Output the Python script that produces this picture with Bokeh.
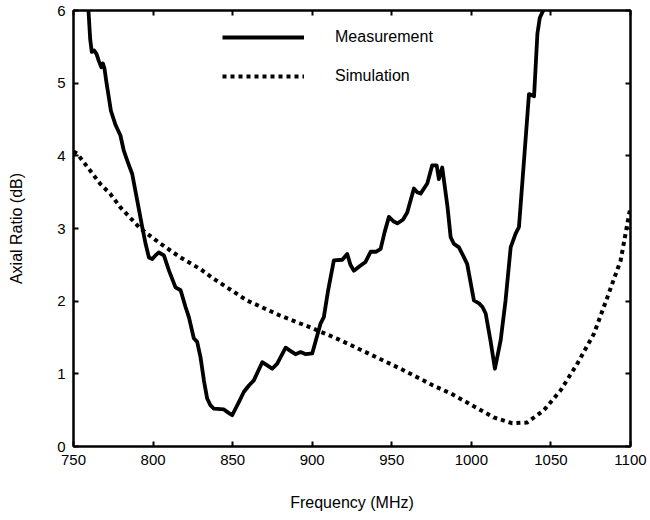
from bokeh.plotting import figure
from bokeh.models import LinearAxis, Legend, LegendItem, Range1d, FixedTicker
from bokeh.embed import file_html
from bokeh.resources import INLINE

# Measured axial ratio (dB) versus frequency (MHz)
meas_freq = [759.4, 760.5, 761.5, 763, 764.5, 766, 767.5, 768.5, 769.5, 770.5,
             773.5, 776.5, 779.5, 781.6, 784, 786.9, 790, 793.2, 795.3, 797.4,
             799.5, 801.5, 803.6, 806.8, 810, 814.1, 817.3, 820.4, 822.5, 825.6,
             827.7, 829.8, 832, 834, 836, 838.2, 844.5, 847, 849.7, 853.9,
             857, 860.2, 863.3, 868.6, 871.5, 874.9, 878, 883.3, 886, 889.5,
             892.7, 896, 900, 905.2, 907.3, 910, 913.6, 918.9, 922, 924,
             926.2, 930.4, 933.5, 936.7, 940, 943, 945.5, 948.2, 951, 953.5,
             957, 959.7, 963.9, 966, 968.1, 972.3, 975.4, 978.2, 979.6, 981.7,
             985, 987, 989, 992.2, 995, 997.4, 1001.6, 1004.8, 1007, 1009,
             1012, 1014.8, 1018.4, 1021.5, 1024.7, 1027.8, 1029.9, 1033.1, 1036.2, 1039.4,
             1041.5, 1043, 1045.2]
meas_ar = [6.0, 5.6, 5.43, 5.45, 5.40, 5.3, 5.22, 5.27, 5.2, 5.04,
           4.62, 4.42, 4.28, 4.07, 3.92, 3.75, 3.39, 3.02, 2.79, 2.60,
           2.58, 2.63, 2.67, 2.63, 2.42, 2.19, 2.15, 1.92, 1.78, 1.49,
           1.44, 1.23, 0.9, 0.66, 0.57, 0.52, 0.51, 0.47, 0.43, 0.61,
           0.75, 0.84, 0.91, 1.16, 1.12, 1.07, 1.14, 1.36, 1.32, 1.27,
           1.30, 1.27, 1.28, 1.69, 1.78, 2.15, 2.56, 2.57, 2.65, 2.5,
           2.42, 2.49, 2.54, 2.68, 2.68, 2.72, 2.95, 3.16, 3.10, 3.07,
           3.12, 3.22, 3.55, 3.50, 3.48, 3.62, 3.87, 3.87, 3.68, 3.84,
           3.30, 2.88, 2.79, 2.74, 2.62, 2.51, 2.01, 1.97, 1.92, 1.83,
           1.46, 1.07, 1.46, 2.01, 2.74, 2.93, 3.02, 3.94, 4.85, 4.82,
           5.68, 5.9, 6.0]

# Simulated axial ratio (dB) versus frequency (MHz)
sim_freq = [750, 752.3, 760, 767, 773, 779.5, 792, 804.7, 817.3, 829.8,
            838, 859, 880, 901, 918, 955.5, 976, 987, 997, 1014,
            1025.7, 1035, 1045.6, 1056, 1066.6, 1077, 1085.4, 1093.8, 1100]
sim_ar = [4.06, 4.03, 3.81, 3.61, 3.48, 3.29, 3.0, 2.79, 2.6, 2.44,
          2.31, 2.01, 1.80, 1.62, 1.46, 1.07, 0.84, 0.73, 0.61, 0.40,
          0.32, 0.33, 0.50, 0.77, 1.14, 1.55, 2.05, 2.56, 3.3]

x_ticks = [750, 800, 850, 900, 950, 1000, 1050, 1100]
y_ticks = [0, 1, 2, 3, 4, 5, 6]

FONT = "Liberation Sans"

p = figure(width=650, height=520, output_backend="svg", toolbar_location=None,
           x_range=Range1d(750, 1100), y_range=Range1d(0, 6),
           min_border_left=73, min_border_right=20, min_border_top=10,
           min_border_bottom=74, x_axis_label="Frequency (MHz)",
           y_axis_label="Axial Ratio (dB)")
p.grid.visible = False
p.outline_line_color = "black"
p.outline_line_width = 2
p.background_fill_color = "white"
p.border_fill_color = "white"


def style_axis(ax, ticks):
    ax.ticker = FixedTicker(ticks=ticks)
    ax.major_tick_in = 5
    ax.major_tick_out = 0
    ax.minor_tick_line_color = None
    ax.axis_line_width = 2
    ax.major_tick_line_width = 2
    ax.major_label_text_font = FONT
    ax.major_label_text_font_size = "15px"
    ax.major_label_text_color = "black"
    ax.axis_label_text_font = FONT
    ax.axis_label_text_font_size = "16px"
    ax.axis_label_text_font_style = "normal"
    ax.axis_label_text_color = "black"


style_axis(p.xaxis[0], x_ticks)
style_axis(p.yaxis[0], y_ticks)
p.xaxis[0].major_label_standoff = 8
p.xaxis[0].axis_label_standoff = 26
p.yaxis[0].major_label_standoff = 8
p.yaxis[0].axis_label_standoff = 29

# mirrored tick marks on the top and right edges
top = LinearAxis()
right = LinearAxis()
style_axis(top, x_ticks)
style_axis(right, y_ticks)
top.major_label_overrides = {t: "" for t in x_ticks}
right.major_label_overrides = {t: "" for t in y_ticks}
top.major_label_standoff = 0
right.major_label_standoff = 0
p.add_layout(top, "above")
p.add_layout(right, "right")

r_meas = p.line(meas_freq, meas_ar, line_color="black", line_width=3.8,
                line_join="round")
r_sim = p.line(sim_freq, sim_ar, line_color="black", line_width=4,
               line_dash="4 4")

legend = Legend(items=[LegendItem(label="Measurement", renderers=[r_meas]),
                       LegendItem(label="Simulation", renderers=[r_sim])],
                location=(149, 360), orientation="vertical",
                glyph_width=82, glyph_height=20, label_height=20,
                label_standoff=31, spacing=19, padding=0, margin=0,
                border_line_color=None, background_fill_alpha=0,
                label_text_font=FONT, label_text_font_size="16px",
                label_text_color="black")
p.add_layout(legend)

open("out.html", "w").write(file_html(p, INLINE))
